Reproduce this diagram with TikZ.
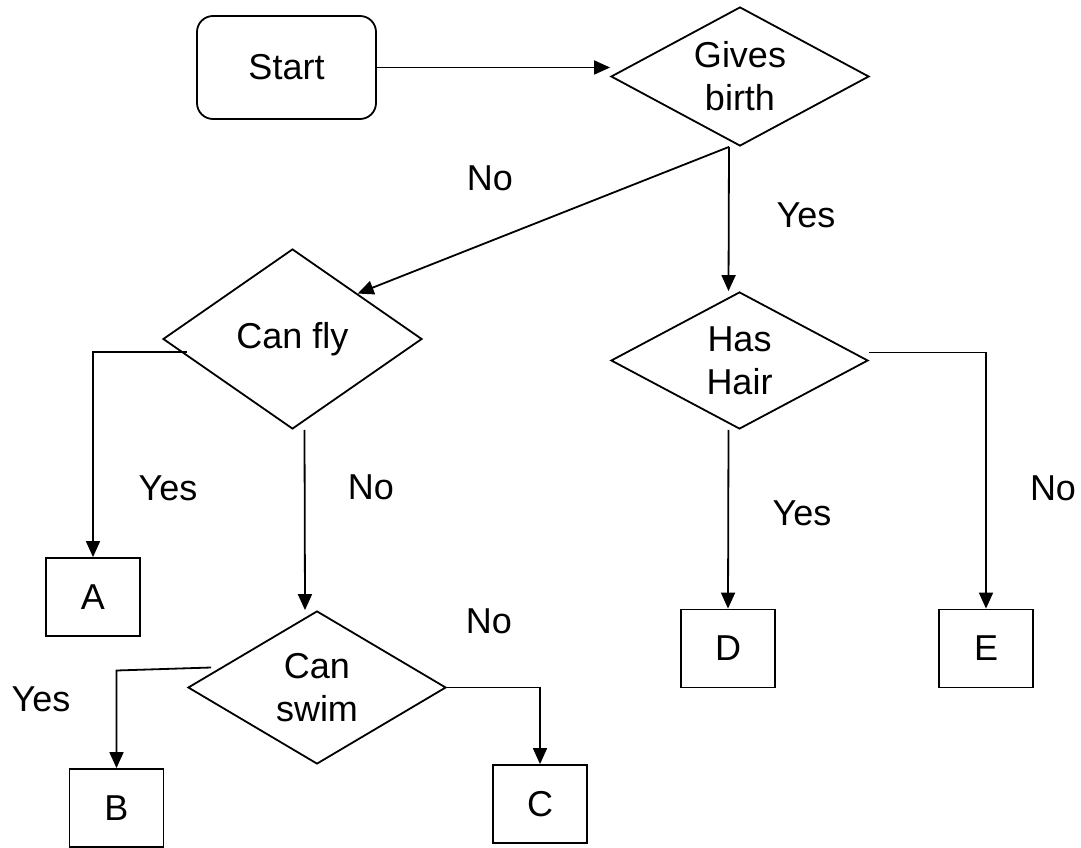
\documentclass[tikz,border=0pt]{standalone}
\usepackage{fontspec}
\setmainfont{Liberation Sans}
\usetikzlibrary{shapes.geometric,arrows.meta}

\begin{document}
\begin{tikzpicture}[x=1pt,y=-1pt,
  every node/.style={font=\fontsize{36}{43}\selectfont},
  line/.style={draw,line width=1.8pt},
  arrow/.style={line,-{Triangle[length=16pt,width=14pt]}},
  decision/.style={draw,line width=1.8pt,shape=diamond,inner sep=0pt,align=center},
  leaf/.style={draw,line width=1.8pt,minimum width=94pt,minimum height=78pt,inner sep=0pt}]

\useasboundingbox (0,0) rectangle (1081,848);

% start
\node[draw,line width=1.8pt,rounded corners=16pt,minimum width=179pt,minimum height=103pt] (start) at (286.5,67.5) {Start};

% questions
\node[decision,minimum width=258pt,minimum height=139pt,aspect=1.86] (birth)  at (740,76.5)   {Gives\\birth};
\node[decision,minimum width=259pt,minimum height=180pt,aspect=1.44] (canfly) at (292.5,339)  {Can fly};
\node[decision,minimum width=257pt,minimum height=137pt,aspect=1.88] (hair)   at (739.5,360.5) {Has\\Hair};
\node[decision,minimum width=258pt,minimum height=153pt,aspect=1.69] (swim)   at (317,687.5)  {Can\\swim};

% answers
\node[leaf] (boxA) at (93,597)    {A};
\node[leaf] (boxB) at (116.5,808) {B};
\node[leaf] (boxC) at (540,804)   {C};
\node[leaf] (boxD) at (728,648.5) {D};
\node[leaf] (boxE) at (986,648.5) {E};

% connectors
\draw[arrow] (start) -- (start -| birth.west);
\draw[arrow] ([xshift=-11pt]birth.south) -- (canfly.north east);
\draw[arrow] ([xshift=-11pt]birth.south) -- ([xshift=-11pt]hair.north);
\draw[arrow] ([xshift=25pt,yshift=-13pt]canfly.west) -| (boxA.north);
\draw[arrow] ([xshift=12pt]canfly.south) -- ([xshift=-12pt]swim.north);
\draw[arrow] ([xshift=24pt,yshift=20pt]swim.west) -- ([yshift=17pt]boxB.north |- swim.west) -- (boxB.north);
\draw[arrow] (swim.east) -| (boxC.north);
\draw[arrow] ([xshift=-11pt]hair.south) -- (boxD.north);
\draw[arrow] ([yshift=8pt]hair.east) -| (boxE.north);

% branch labels
\node (noBirth)  at (490,178)  {No};
\node (yesBirth) at (806,215)  {Yes};
\node (yesFly)   at (168,488)  {Yes};
\node (noFly)    at (371,487)  {No};
\node (yesHair)  at (802,513)  {Yes};
\node (noHair)   at (1053,488) {No};
\node (noSwim)   at (489,621)  {No};
\node (yesSwim)  at (41,699)   {Yes};

\end{tikzpicture}
\end{document}
